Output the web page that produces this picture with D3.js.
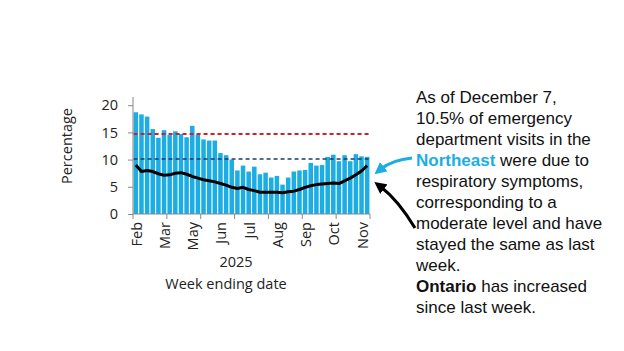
<!DOCTYPE html>
<html>
<head>
<meta charset="utf-8">
<script src="https://cdn.jsdelivr.net/npm/d3@7"></script>
<style>
  body { margin: 0; background: #fff; }
  svg { display: block; }
</style>
</head>
<body>
<div id="chart"></div>
<script>
// weekly values, 42 weeks ending Feb 22 .. Dec 6, 2025
const weeks = d3.range(42)
const northeast = [18.7, 18.3, 17.9, 15.6, 14.0, 15.4, 14.5, 15.2, 14.7, 14.1,
                   16.2, 14.6, 13.7, 13.5, 13.5, 11.2, 10.8, 10.0, 8.0, 8.9,
                   7.8, 8.7, 7.3, 7.6, 6.7, 7.0, 5.4, 6.7, 7.8, 8.0,
                   8.1, 9.4, 8.9, 9.0, 10.5, 10.9, 9.7, 10.8, 9.7, 11.0,
                   10.6, 10.5]
const ontario = [9.0, 7.8, 8.0, 7.8, 7.4, 7.1, 7.2, 7.5, 7.6, 7.3,
                 6.9, 6.6, 6.3, 6.1, 5.9, 5.6, 5.3, 4.9, 4.7, 4.9,
                 4.5, 4.3, 4.0, 4.0, 4.0, 4.0, 3.9, 4.1, 4.2, 4.5,
                 4.9, 5.2, 5.4, 5.5, 5.6, 5.7, 5.6, 6.1, 6.6, 7.2,
                 7.9, 8.9]
const monthLabels = ["Feb", "Mar", "May", "Jun", "Jul", "Aug", "Sep", "Oct", "Nov"]
const yTicks = [0, 5, 10, 15, 20]
const highThreshold = 14.7
const moderateThreshold = 10.1

const blue = "#1CADE4"

var margin = {top: 97, left: 133},
    width = 237,
    height = 117

var svg = d3.select("#chart")
    .append("svg")
    .attr("width", 624)
    .attr("height", 351)

var g = svg.append("g")
    .attr("transform", "translate(" + margin.left + "," + margin.top + ")")

var x = d3.scaleBand()
    .domain(weeks)
    .range([0, width])
    .paddingInner(0.2)
    .paddingOuter(0.1)

var y = d3.scaleLinear()
    .domain([0, 21.5])
    .range([height, 0])

// bars
g.selectAll("rect.bar")
    .data(northeast)
    .enter()
    .append("rect")
    .attr("class", "bar")
    .attr("x", (d, i) => x(i))
    .attr("width", x.bandwidth())
    .attr("y", d => y(d))
    .attr("height", d => y(0) - y(d))
    .attr("fill", blue)

// threshold lines
var x0 = x(0), x1 = x(weeks.length - 1) + x.bandwidth()
g.append("line")
    .attr("x1", x0).attr("x2", x1)
    .attr("y1", y(highThreshold)).attr("y2", y(highThreshold))
    .attr("stroke", "#D0202A").attr("stroke-width", 2)
    .attr("stroke-dasharray", "4,3")
g.append("line")
    .attr("x1", x0).attr("x2", x1)
    .attr("y1", y(moderateThreshold)).attr("y2", y(moderateThreshold))
    .attr("stroke", "#1F3A6E").attr("stroke-width", 1.6)
    .attr("stroke-dasharray", "4,3")

// Ontario line
g.append("path")
    .datum(ontario)
    .attr("fill", "none")
    .attr("stroke", "#000")
    .attr("stroke-width", 3)
    .attr("stroke-linejoin", "round")
    .attr("d", d3.line()
        .x((d, i) => x(i) + x.bandwidth() / 2)
        .y(d => y(d)))

// y axis
var yAxis = g.append("g")
    .call(d3.axisLeft(y).tickValues(yTicks).tickSize(5).tickPadding(10))
yAxis.select(".domain").attr("stroke", "#888").attr("d", "M0," + y(0) + "V0")
yAxis.selectAll(".tick line").attr("stroke", "#888")
yAxis.selectAll("text")
    .attr("font-family", "Open Sans, sans-serif")
    .attr("font-size", 14.5)
    .attr("fill", "#222")

// x axis: tick marks every 6 weeks, labels every 5 weeks
var xAxis = g.append("g").attr("transform", "translate(0," + height + ")")
xAxis.append("line")
    .attr("x1", 0).attr("x2", width)
    .attr("stroke", "#888")
xAxis.selectAll("line.tk")
    .data(d3.range(0, weeks.length + 1, 6))
    .enter()
    .append("line")
    .attr("class", "tk")
    .attr("x1", d => d * x.step())
    .attr("x2", d => d * x.step())
    .attr("y1", 0).attr("y2", 5)
    .attr("stroke", "#888")
xAxis.selectAll("text")
    .data(monthLabels)
    .enter()
    .append("text")
    .attr("transform", (d, i) => "translate(" + (x(i * 5) + x.bandwidth() / 2 + 6) + ",8) rotate(-90)")
    .attr("text-anchor", "end")
    .attr("font-family", "Open Sans, sans-serif")
    .attr("font-size", 14.5)
    .attr("fill", "#222")
    .text(d => d)

// axis titles
svg.append("text")
    .attr("x", 236).attr("y", 267)
    .attr("text-anchor", "middle")
    .attr("font-family", "Open Sans, sans-serif")
    .attr("font-size", 14.5)
    .attr("fill", "#222")
    .text("2025")
svg.append("text")
    .attr("x", 226).attr("y", 289)
    .attr("text-anchor", "middle")
    .attr("font-family", "Open Sans, sans-serif")
    .attr("font-size", 14.5)
    .attr("fill", "#222")
    .text("Week ending date")
svg.append("text")
    .attr("transform", "translate(72,146) rotate(-90)")
    .attr("text-anchor", "middle")
    .attr("font-family", "Open Sans, sans-serif")
    .attr("font-size", 14.5)
    .attr("fill", "#222")
    .text("Percentage")

// annotation text
const noteLines = [
    [["As of December 7,", false]],
    [["10.5% of emergency", false]],
    [["department visits in the", false]],
    [["Northeast", true, blue], [" were due to", false]],
    [["respiratory symptoms,", false]],
    [["corresponding to a", false]],
    [["moderate level and have", false]],
    [["stayed the same as last", false]],
    [["week.", false]],
    [["Ontario", true], [" has increased", false]],
    [["since last week.", false]]
]
var note = svg.append("text")
    .attr("font-family", "Liberation Sans, Arial, sans-serif")
    .attr("font-size", 17)
    .attr("fill", "#111")
noteLines.forEach(function (line, i) {
    var t = note.append("tspan").attr("x", 416).attr("y", 103 + i * 21)
    line.forEach(function (part, j) {
        var s = j === 0 ? t : note.append("tspan")
        s.text(part[0])
        if (part[1]) s.attr("font-weight", "bold")
        if (part[2]) s.attr("fill", part[2])
    })
})

// arrows
var defs = svg.append("defs")
function marker(id, color) {
    defs.append("marker")
        .attr("id", id)
        .attr("viewBox", "0 0 10 10")
        .attr("refX", 3).attr("refY", 5)
        .attr("markerWidth", 4).attr("markerHeight", 4)
        .attr("orient", "auto")
        .append("path")
        .attr("d", "M0,0L10,5L0,10z")
        .attr("fill", color)
}
marker("headBlue", blue)
marker("headBlack", "#000")
svg.append("path")
    .attr("d", "M412,158 Q392,160 381,169")
    .attr("fill", "none")
    .attr("stroke", blue)
    .attr("stroke-width", 3)
    .attr("marker-end", "url(#headBlue)")
svg.append("path")
    .attr("d", "M415,228 Q398,200 381,187")
    .attr("fill", "none")
    .attr("stroke", "#000")
    .attr("stroke-width", 3)
    .attr("marker-end", "url(#headBlack)")
</script>
</body>
</html>
